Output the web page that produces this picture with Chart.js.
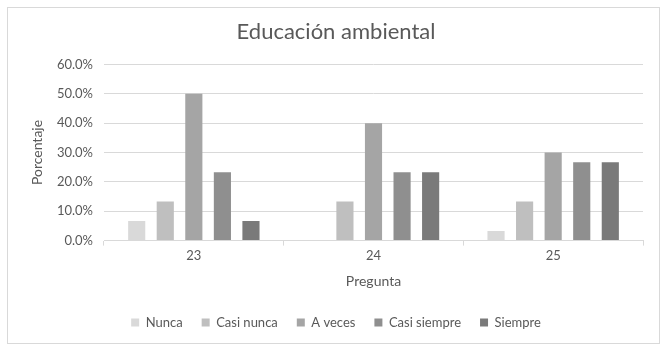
<!DOCTYPE html>
<html>
<head>
<meta charset="utf-8">
<script src="https://cdn.jsdelivr.net/npm/chart.js@4.4.1/dist/chart.umd.min.js"></script>
<style>
  body { margin: 0; background: #fff; }
  #frame { position: absolute; left: 7px; top: 7px; width: 651px; height: 335px; border: 1px solid #d9d9d9; }
  #chart { position: absolute; left: 0; top: 0; }
</style>
</head>
<body>
<div id="frame"></div>
<canvas id="chart" width="666" height="351"></canvas>
<script>
// Educación ambiental

const preguntas = ['23', '24', '25'];
const nunca = [6.7, 0, 3.3];
const casiNunca = [13.3, 13.3, 13.3];
const aVeces = [50.0, 40.0, 30.0];
const casiSiempre = [23.3, 23.3, 26.7];
const siempre = [6.7, 23.3, 26.7];
const yTicks = [0, 10, 20, 30, 40, 50, 60];

const font = "Lato, 'Open Sans', sans-serif";
const textColor = '#595959';

const ctx = document.getElementById('chart').getContext('2d');

const bar = (label, data, color) => ({
  label: label,
  data: data,
  backgroundColor: color,
  borderWidth: 0,
  categoryPercentage: 0.795,
  barPercentage: 0.6
});

new Chart(ctx, {
  type: 'bar',
  data: {
    labels: preguntas,
    datasets: [
      bar('Nunca', nunca, '#d9d9d9'),
      bar('Casi nunca', casiNunca, '#bfbfbf'),
      bar('A veces', aVeces, '#a5a5a5'),
      bar('Casi siempre', casiSiempre, '#8f8f8f'),
      bar('Siempre', siempre, '#7a7a7a')
    ]
  },
  options: {
    responsive: false,
    animation: false,
    layout: {
      padding: { left: 29, right: 23, top: 19, bottom: 12 }
    },
    plugins: {
      title: {
        display: true,
        text: 'Educación ambiental',
        color: textColor,
        font: { family: font, size: 22, weight: 'normal' },
        padding: { top: 0, bottom: 19 }
      },
      legend: {
        position: 'bottom',
        labels: {
          color: textColor,
          font: { family: font, size: 13 },
          boxWidth: 8,
          boxHeight: 8,
          padding: 19
        }
      },
      tooltip: { enabled: false }
    },
    scales: {
      x: {
        grid: {
          offset: true,
          drawOnChartArea: false,
          color: '#d9d9d9',
          tickLength: 5
        },
        border: { color: '#d9d9d9' },
        ticks: {
          color: textColor,
          font: { family: font, size: 13 },
          padding: 2
        },
        title: {
          display: true,
          text: 'Pregunta',
          color: textColor,
          font: { family: font, size: 14 },
          padding: { top: 8, bottom: 7 }
        }
      },
      y: {
        min: 0,
        max: 60,
        afterBuildTicks: axis => { axis.ticks = yTicks.map(v => ({ value: v })); },
        afterFit: axis => { axis.width = 104 - 29; },
        grid: {
          color: '#d9d9d9',
          drawTicks: false
        },
        border: { display: false },
        ticks: {
          color: textColor,
          font: { family: font, size: 13 },
          padding: 11,
          callback: v => v.toFixed(1) + '%'
        },
        title: {
          display: true,
          text: 'Porcentaje',
          color: textColor,
          font: { family: font, size: 14 },
          padding: { top: 0, bottom: 4 }
        }
      }
    }
  }
});
</script>
</body>
</html>
